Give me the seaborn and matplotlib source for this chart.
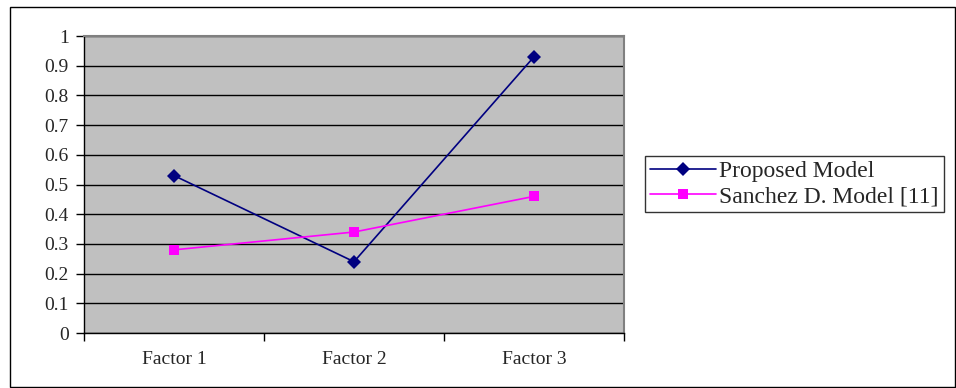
import matplotlib
matplotlib.use("Agg")
import matplotlib.pyplot as plt
from matplotlib.patches import Rectangle
from matplotlib.ticker import FixedLocator
import pandas as pd
import seaborn as sns

# data
factors = ["Factor 1", "Factor 2", "Factor 3"]
proposed = [0.53, 0.24, 0.93]
sanchez = [0.28, 0.34, 0.46]
series_names = ["Proposed Model", "Sanchez D. Model [11]"]
y_ticks = [0, 0.1, 0.2, 0.3, 0.4, 0.5, 0.6, 0.7, 0.8, 0.9, 1]
y_labels = ["0", "0.1", "0.2", "0.3", "0.4", "0.5", "0.6", "0.7", "0.8", "0.9", "1"]

df = pd.DataFrame({
    "Factor": factors * 2,
    "Value": proposed + sanchez,
    "Series": [series_names[0]] * 3 + [series_names[1]] * 3,
})

sns.set_theme(style="white")
plt.rcParams["font.family"] = ["Liberation Serif", "DejaVu Serif"]

fig = plt.figure(figsize=(9.56, 3.88), dpi=100)
ax = fig.add_axes([84 / 956, 55 / 388, 540 / 956, 297 / 388])
ax.set_facecolor("#c0c0c0")

sns.lineplot(
    data=df, x="Factor", y="Value", hue="Series", style="Series",
    palette={series_names[0]: "#000080", series_names[1]: "#ff00ff"},
    markers={series_names[0]: "D", series_names[1]: "s"},
    dashes=False, linewidth=1.2, markersize=7, markeredgewidth=0,
    sort=False, ax=ax,
)

ax.set_xlim(-0.5, 2.5)
ax.set_ylim(0, 1)
ax.set_yticks(y_ticks)
ax.set_yticklabels(y_labels)
ax.yaxis.grid(True, color="black", linewidth=1)
ax.set_axisbelow(True)
ax.tick_params(axis="y", which="major", direction="out", length=6, width=1,
               color="black", left=True, labelsize=14, pad=5)
ax.xaxis.set_minor_locator(FixedLocator([-0.5, 0.5, 1.5, 2.5]))
ax.tick_params(axis="x", which="major", length=0, labelsize=14, pad=13)
ax.tick_params(axis="x", which="minor", direction="out", length=6, width=1,
               color="black", bottom=True)
ax.set_xlabel("")
ax.set_ylabel("")

for side in ["top", "right"]:
    ax.spines[side].set_color("#808080")
    ax.spines[side].set_linewidth(1.5)
for side in ["left", "bottom"]:
    ax.spines[side].set_color("black")
    ax.spines[side].set_linewidth(1)

leg = ax.legend(
    loc="center left", bbox_to_anchor=(645 / 956, 1 - 184 / 388),
    bbox_transform=fig.transFigure, frameon=True, fancybox=False,
    fontsize=17, handlelength=2.8, handletextpad=0.15, borderpad=0.2,
    labelspacing=0.15, borderaxespad=0,
)
leg.get_frame().set_edgecolor("black")
leg.get_frame().set_linewidth(1)

# outer chart border
fig.patches.append(Rectangle((10 / 956, 1 / 388), 945 / 956, 380 / 388,
                             transform=fig.transFigure, fill=False,
                             edgecolor="black", linewidth=1))

fig.savefig("out.png", dpi=100)
